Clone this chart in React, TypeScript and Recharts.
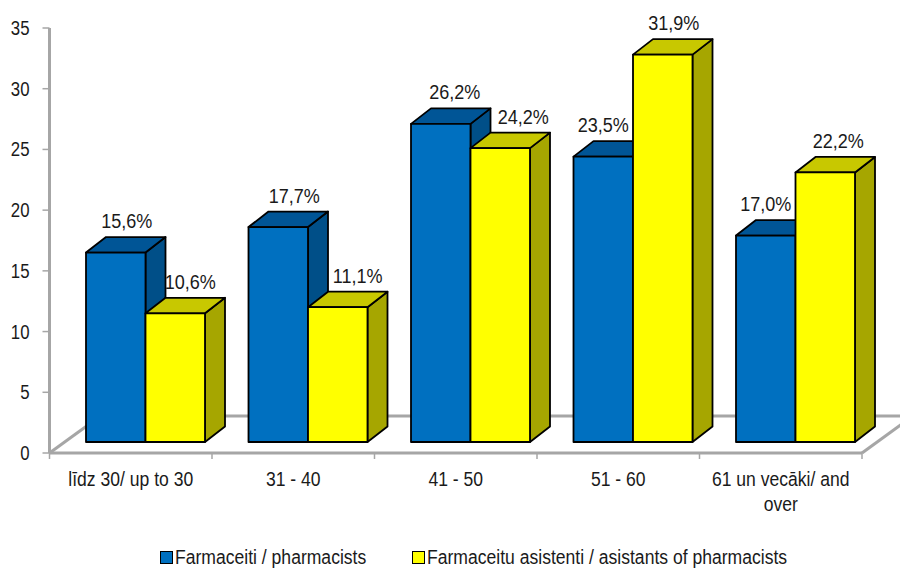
import { BarChart, Bar, XAxis, YAxis, Legend, usePlotArea } from 'recharts';

const categories = ['līdz 30/ up to 30', '31 - 40', '41 - 50', '51 - 60', '61 un vecāki/ and over'];
const pharmacists = [15.6, 17.7, 26.2, 23.5, 17.0];
const assistants = [10.6, 11.1, 24.2, 31.9, 22.2];
const yTicks = [0, 5, 10, 15, 20, 25, 30, 35];
const seriesNames = ['Farmaceiti / pharmacists', 'Farmaceitu asistenti / asistants of pharmacists'];

const data = categories.map((name, i) => ({ name, pharmacists: pharmacists[i], assistants: assistants[i] }));

const FONT = '"Liberation Sans", Arial, sans-serif';
const GREY = '#a6a6a6';
const TEXT = '#1a1a1a';

// offset of the bars from the floor's front edge, and the extrusion depth
const SHIFT_X = 14.5;
const SHIFT_Y = -11;
const DEPTH_X = 20;
const DEPTH_Y = -15.5;

// the labels were moved by hand in the original
const blueLabelNudge = [11, 16, 14, 0, 0];
const yellowLabelNudge = [15, 20, 23, 11, 13];

// the original font is a squeezed Arial, no narrow face is installed
const squeeze = (x: number, k: number) => `translate(${x} 0) scale(${k} 1) translate(${-x} 0)`;

function wrapLabel(label: string, maxChars: number) {
  const lines: string[] = [];
  label.split(' ').forEach((word) => {
    const last = lines[lines.length - 1];
    if (last !== undefined && (last + ' ' + word).length <= maxChars) lines[lines.length - 1] = last + ' ' + word;
    else lines.push(word);
  });
  return lines;
}

function Box(props: any) {
  const { x, y, width, height, front, top, side } = props;
  const l = x + SHIFT_X;
  const r = l + width;
  const t = y + SHIFT_Y;
  const b = t + height;
  const pts = (a: number[][]) => a.map((p) => p.join(',')).join(' ');
  return (
    <g stroke="#000" strokeWidth={1.8} strokeLinejoin="round">
      <polygon fill={side} points={pts([[r, t], [r + DEPTH_X, t + DEPTH_Y], [r + DEPTH_X, b + DEPTH_Y], [r, b]])} />
      <polygon fill={top} points={pts([[l, t], [l + DEPTH_X, t + DEPTH_Y], [r + DEPTH_X, t + DEPTH_Y], [r, t]])} />
      <rect x={l} y={t} width={width} height={height} fill={front} />
    </g>
  );
}

function BarLabel(props: any) {
  const { x, y, width, value, index, nudge } = props;
  const cx = x + width / 2 + SHIFT_X + nudge[index];
  return (
    <text
      x={cx}
      y={y + SHIFT_Y - 24.5}
      transform={squeeze(cx, 0.86)}
      textAnchor="middle"
      fontFamily={FONT}
      fontSize={21}
      fill={TEXT}
    >
      {value.toFixed(1).replace('.', ',') + '%'}
    </text>
  );
}

function Floor() {
  const plot = usePlotArea();
  if (!plot) return null;
  const left = plot.x;
  const right = plot.x + plot.width;
  const front = plot.y + plot.height;
  const back = front - 37;
  return (
    <g stroke={GREY} strokeWidth={3} fill="none">
      <line x1={left} y1={front} x2={left + 51} y2={back} />
      <line x1={left + 51} y1={back} x2={right + 51} y2={back} />
      <line x1={right} y1={front} x2={right + 51} y2={back} />
    </g>
  );
}

function CategoryTick(props: any) {
  const { x, y, payload, index, visibleTicksCount } = props;
  const band = 162.5;
  return (
    <g>
      <line x1={x - band / 2} x2={x - band / 2} y1={y - 6} y2={y} stroke={GREY} strokeWidth={1.5} />
      {index === visibleTicksCount - 1 && (
        <line x1={x + band / 2} x2={x + band / 2} y1={y - 6} y2={y} stroke={GREY} strokeWidth={1.5} />
      )}
      <text transform={squeeze(x, 0.9)} textAnchor="middle" fontFamily={FONT} fontSize={19.5} fill={TEXT}>
        {wrapLabel(payload.value, 17).map((line, i) => (
          <tspan key={line} x={x} y={y + 27 + i * 25}>{line}</tspan>
        ))}
      </text>
    </g>
  );
}

function ValueTick(props: any) {
  const { x, y, payload } = props;
  return (
    <text x={x} y={y + 7} transform={squeeze(x, 0.8)} textAnchor="end" fontFamily={FONT} fontSize={21} fill={TEXT}>
      {payload.value}
    </text>
  );
}

function LegendRow() {
  const items = [
    { name: seriesNames[0], color: '#0070c0', left: 160 },
    { name: seriesNames[1], color: '#ffff00', left: 412 },
  ];
  return (
    <div style={{ position: 'relative', height: 24, fontFamily: FONT, fontSize: 20, color: TEXT }}>
      {items.map((it) => (
        <div key={it.name} style={{ position: 'absolute', left: it.left, top: 0, display: 'flex', alignItems: 'center', whiteSpace: 'nowrap' }}>
          <span style={{ width: 11, height: 11, background: it.color, border: '1.5px solid #000', marginRight: 2 }} />
          <span style={{ display: 'inline-block', transform: 'scaleX(0.878)', transformOrigin: 'left center' }}>{it.name}</span>
        </div>
      ))}
    </div>
  );
}

export default function App() {
  return (
    <div style={{ position: 'absolute', left: 0, top: 0, width: 900, height: 568, background: '#fff' }}>
      <BarChart
        width={900}
        height={568}
        data={data}
        margin={{ top: 28, right: 38, bottom: 0, left: 0 }}
        barSize={59.5}
        barGap={0}
      >
        <Floor />
        <XAxis
          dataKey="name"
          axisLine={{ stroke: GREY, strokeWidth: 3 }}
          tickLine={false}
          interval={0}
          tick={<CategoryTick />}
          height={91}
          tickMargin={0}
        />
        <YAxis
          domain={[0, 35]}
          ticks={yTicks}
          width={49.5}
          axisLine={{ stroke: GREY, strokeWidth: 3 }}
          tickLine={{ stroke: GREY, strokeWidth: 1.5 }}
          tickSize={7}
          tickMargin={13}
          tick={<ValueTick />}
        />
        <Legend
          content={<LegendRow />}
          wrapperStyle={{ left: 0, top: 546, width: 900, bottom: 'auto' }}
        />
        <Bar
          dataKey="pharmacists"
          isAnimationActive={false}
          shape={<Box front="#0070c0" top="#005596" side="#004f88" />}
          label={<BarLabel nudge={blueLabelNudge} />}
        />
        <Bar
          dataKey="assistants"
          isAnimationActive={false}
          shape={<Box front="#ffff00" top="#c8c800" side="#a6a600" />}
          label={<BarLabel nudge={yellowLabelNudge} />}
        />
      </BarChart>
    </div>
  );
}
